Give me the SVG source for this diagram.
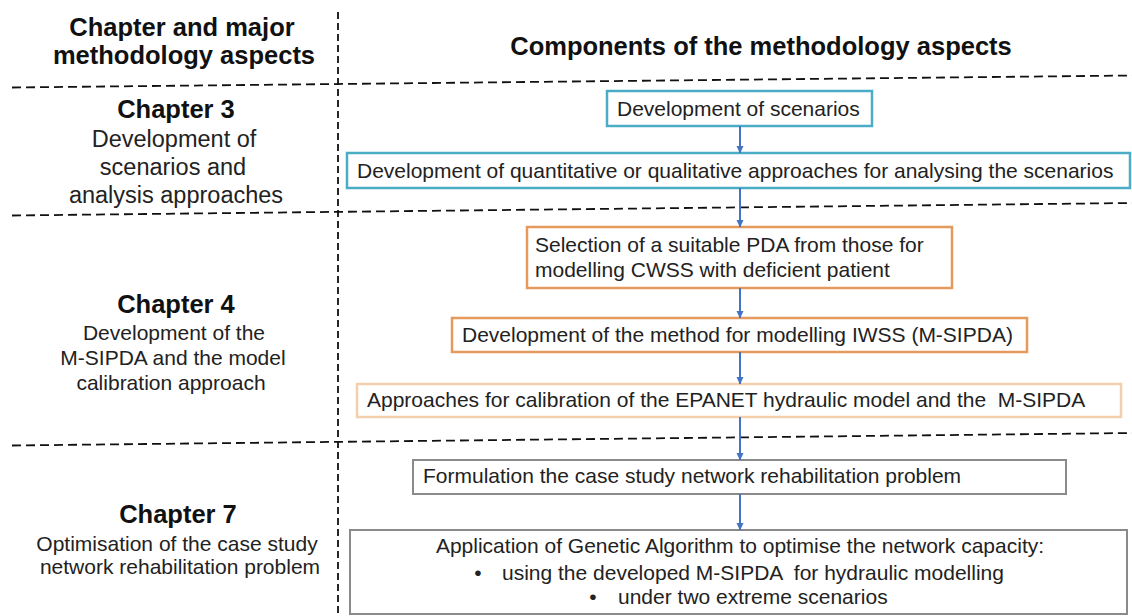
<svg xmlns="http://www.w3.org/2000/svg" width="1132" height="616" viewBox="0 0 1132 616">
<defs>
<marker id="ah" markerWidth="8" markerHeight="8" refX="7" refY="4" orient="auto" markerUnits="userSpaceOnUse">
<path d="M0,0.5 L7.5,4 L0,7.5 Z" fill="#4472C4"/>
</marker>
<style>
.hd{font-family:"Liberation Sans",Arial,sans-serif;font-weight:bold;font-size:25.5px;fill:#111;text-anchor:middle}
.lt{font-family:"Liberation Sans",Arial,sans-serif;font-size:21px;fill:#222;text-anchor:middle}
.lt3{font-size:23.5px}
.bt{font-family:"Liberation Sans",Arial,sans-serif;font-size:21px;fill:#222}
.dash{stroke:#111;stroke-width:1.8;stroke-dasharray:9 5;fill:none}
.vdash{stroke:#111;stroke-width:1.8;stroke-dasharray:7 4;fill:none}
.teal{fill:#fff;stroke:#4BACC6;stroke-width:2.5}
.orng{fill:#fff;stroke:#E59A5C;stroke-width:2.5}
.lorng{fill:#fff;stroke:#F3CFAB;stroke-width:2.5}
.gray{fill:#fff;stroke:#8A8A8A;stroke-width:2}
.arr{stroke:#4472C4;stroke-width:2;fill:none;marker-end:url(#ah)}
</style>
</defs>
<rect width="1132" height="616" fill="#fff"/>
<g id="grid">
<line class="vdash" x1="338" y1="12" x2="338" y2="616"/>
<line class="dash" x1="12" y1="87.5" x2="1132" y2="75.5"/>
<line class="dash" x1="12" y1="215.5" x2="1132" y2="203"/>
<line class="dash" x1="12" y1="445.5" x2="1132" y2="433"/>
</g>
<g id="header-left">
<text class="hd" x="182" y="36">Chapter and major</text>
<text class="hd" x="184" y="64">methodology aspects</text>
</g>
<g id="header-right">
<text class="hd" x="761" y="55">Components of the methodology aspects</text>
</g>
<g id="chapter3">
<text class="hd" x="176" y="118">Chapter 3</text>
<text class="lt lt3" x="174" y="147">Development of</text>
<text class="lt lt3" x="173" y="175">scenarios and</text>
<text class="lt lt3" x="176" y="203">analysis approaches</text>
</g>
<g id="chapter4">
<text class="hd" x="176" y="313">Chapter 4</text>
<text class="lt" x="174" y="340">Development of the</text>
<text class="lt" x="173" y="365">M-SIPDA and the model</text>
<text class="lt" x="171" y="390">calibration approach</text>
</g>
<g id="chapter7">
<text class="hd" x="178" y="523">Chapter 7</text>
<text class="lt" x="177" y="551">Optimisation of the case study</text>
<text class="lt" x="180" y="574">network rehabilitation problem</text>
</g>
<g id="box1">
<rect class="teal" x="607" y="91" width="265" height="35"/>
<text class="bt" x="617" y="116">Development of scenarios</text>
</g>
<g id="box2">
<rect class="teal" x="347" y="153" width="783" height="35"/>
<text class="bt" x="357" y="178">Development of quantitative or qualitative approaches for analysing the scenarios</text>
</g>
<g id="box3">
<rect class="orng" x="527" y="227" width="425" height="61"/>
<text class="bt" x="535" y="252">Selection of a suitable PDA from those for</text>
<text class="bt" x="535" y="277">modelling CWSS with deficient patient</text>
</g>
<g id="box4">
<rect class="orng" x="452" y="318" width="575" height="34"/>
<text class="bt" x="462" y="342">Development of the method for modelling IWSS (M-SIPDA)</text>
</g>
<g id="box5">
<rect class="lorng" x="357" y="384" width="764" height="33"/>
<text class="bt" x="367" y="407" xml:space="preserve">Approaches for calibration of the EPANET hydraulic model and the  M-SIPDA</text>
</g>
<g id="box6">
<rect class="gray" x="413" y="460" width="653" height="34"/>
<text class="bt" x="423" y="483">Formulation the case study network rehabilitation problem</text>
</g>
<g id="box7">
<rect class="gray" x="350" y="530" width="777" height="84"/>
<text class="bt" x="740" y="553" text-anchor="middle">Application of Genetic Algorithm to optimise the network capacity:</text>
<text class="bt" x="478" y="580" text-anchor="middle">•</text>
<text class="bt" x="502" y="580" xml:space="preserve">using the developed M-SIPDA  for hydraulic modelling</text>
<text class="bt" x="593" y="604" text-anchor="middle">•</text>
<text class="bt" x="618" y="604">under two extreme scenarios</text>
</g>
<g id="connectors">
<line class="arr" x1="740" y1="126" x2="740" y2="153"/>
<line class="arr" x1="740" y1="188" x2="740" y2="227"/>
<line class="arr" x1="740" y1="288" x2="740" y2="318"/>
<line class="arr" x1="740" y1="352" x2="740" y2="384"/>
<line class="arr" x1="740" y1="417" x2="740" y2="460"/>
<line class="arr" x1="740" y1="494" x2="740" y2="530"/>
</g>
</svg>
